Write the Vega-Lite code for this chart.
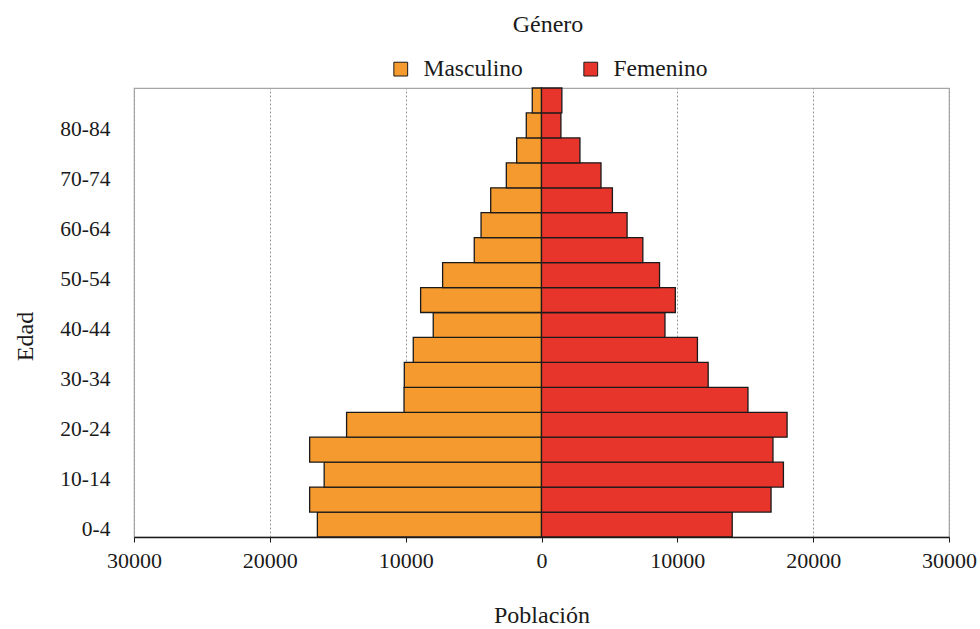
{
  "$schema": "https://vega.github.io/schema/vega-lite/v6.json",
  "width": 815,
  "height": 449,
  "autosize": {"type": "none"},
  "padding": {"left": 134, "top": 88, "right": 31, "bottom": 92},
  "background": "white",
  "config": {
    "font": "Liberation Serif",
    "view": {"stroke": "#a6a6a6", "strokeWidth": 1.2}
  },
  "data": {
    "values": [
      {"edad": "0-4", "genero": "Masculino", "poblacion": -16500},
      {"edad": "5-9", "genero": "Masculino", "poblacion": -17070},
      {"edad": "10-14", "genero": "Masculino", "poblacion": -16000},
      {"edad": "15-19", "genero": "Masculino", "poblacion": -17070},
      {"edad": "20-24", "genero": "Masculino", "poblacion": -14350},
      {"edad": "25-29", "genero": "Masculino", "poblacion": -10120},
      {"edad": "30-34", "genero": "Masculino", "poblacion": -10100},
      {"edad": "35-39", "genero": "Masculino", "poblacion": -9440},
      {"edad": "40-44", "genero": "Masculino", "poblacion": -7970},
      {"edad": "45-49", "genero": "Masculino", "poblacion": -8900},
      {"edad": "50-54", "genero": "Masculino", "poblacion": -7280},
      {"edad": "55-59", "genero": "Masculino", "poblacion": -4950},
      {"edad": "60-64", "genero": "Masculino", "poblacion": -4450},
      {"edad": "65-69", "genero": "Masculino", "poblacion": -3740},
      {"edad": "70-74", "genero": "Masculino", "poblacion": -2590},
      {"edad": "75-79", "genero": "Masculino", "poblacion": -1830},
      {"edad": "80-84", "genero": "Masculino", "poblacion": -1120},
      {"edad": "85+", "genero": "Masculino", "poblacion": -680},
      {"edad": "0-4", "genero": "Femenino", "poblacion": 14040},
      {"edad": "5-9", "genero": "Femenino", "poblacion": 16900},
      {"edad": "10-14", "genero": "Femenino", "poblacion": 17810},
      {"edad": "15-19", "genero": "Femenino", "poblacion": 17040},
      {"edad": "20-24", "genero": "Femenino", "poblacion": 18080},
      {"edad": "25-29", "genero": "Femenino", "poblacion": 15200},
      {"edad": "30-34", "genero": "Femenino", "poblacion": 12270},
      {"edad": "35-39", "genero": "Femenino", "poblacion": 11480},
      {"edad": "40-44", "genero": "Femenino", "poblacion": 9090},
      {"edad": "45-49", "genero": "Femenino", "poblacion": 9850},
      {"edad": "50-54", "genero": "Femenino", "poblacion": 8690},
      {"edad": "55-59", "genero": "Femenino", "poblacion": 7460},
      {"edad": "60-64", "genero": "Femenino", "poblacion": 6300},
      {"edad": "65-69", "genero": "Femenino", "poblacion": 5220},
      {"edad": "70-74", "genero": "Femenino", "poblacion": 4380},
      {"edad": "75-79", "genero": "Femenino", "poblacion": 2830},
      {"edad": "80-84", "genero": "Femenino", "poblacion": 1430},
      {"edad": "85+", "genero": "Femenino", "poblacion": 1500}
    ]
  },
  "mark": {"type": "bar", "stroke": "#1a1a1a", "strokeWidth": 1.3},
  "encoding": {
    "y": {
      "field": "edad",
      "type": "nominal",
      "sort": ["85+", "80-84", "75-79", "70-74", "65-69", "60-64", "55-59", "50-54", "45-49", "40-44", "35-39", "30-34", "25-29", "20-24", "15-19", "10-14", "5-9", "0-4"],
      "scale": {"paddingInner": 0, "paddingOuter": 0},
      "axis": {
        "title": "Edad",
        "values": ["0-4", "10-14", "20-24", "30-34", "40-44", "50-54", "60-64", "70-74", "80-84"],
        "ticks": false,
        "tickSize": 0,
        "domain": false,
        "labelPadding": 24,
        "labelFontSize": 21.5,
        "labelColor": "#1a1a1a",
        "labelOffset": 5,
        "titleFontSize": 24,
        "titleFontWeight": "normal",
        "titleColor": "#1a1a1a",
        "titleAngle": -90,
        "titleX": -102,
        "titleY": 248,
        "titleAlign": "center",
        "titleBaseline": "alphabetic"
      }
    },
    "x": {
      "field": "poblacion",
      "type": "quantitative",
      "scale": {"domain": [-30000, 30000], "nice": false, "zero": false},
      "axis": {
        "title": "Población",
        "values": [-30000, -20000, -10000, 0, 10000, 20000, 30000],
        "labelExpr": "format(abs(datum.value), 'd')",
        "labelFontSize": 22,
        "labelColor": "#1a1a1a",
        "labelPadding": 8,
        "labelFlush": false,
        "labelOverlap": false,
        "tickSize": 5,
        "tickColor": "#1a1a1a",
        "domainColor": "#1a1a1a",
        "domainWidth": 1.3,
        "grid": true,
        "gridColor": "#9a9a9a",
        "gridDash": [2, 2],
        "gridWidth": 1,
        "titleFontSize": 24,
        "titleFontWeight": "normal",
        "titleColor": "#1a1a1a",
        "titleY": 85,
        "titleBaseline": "alphabetic"
      }
    },
    "color": {
      "field": "genero",
      "type": "nominal",
      "sort": ["Masculino", "Femenino"],
      "scale": {"domain": ["Masculino", "Femenino"], "range": ["#F49A2E", "#E8352C"]},
      "legend": {
        "title": "Género",
        "orient": "none",
        "legendX": 255,
        "legendY": -75,
        "direction": "horizontal",
        "columns": 2,
        "titleAnchor": "middle",
        "titleFontSize": 24,
        "titleFontWeight": "normal",
        "titleColor": "#1a1a1a",
        "titlePadding": 20,
        "labelFontSize": 23.5,
        "labelColor": "#1a1a1a",
        "labelOffset": 11,
        "columnPadding": 56,
        "symbolType": "square",
        "symbolSize": 190,
        "symbolStrokeColor": "#1a1a1a",
        "symbolStrokeWidth": 1,
        "gridAlign": "all",
        "padding": 0
      }
    }
  }
}
